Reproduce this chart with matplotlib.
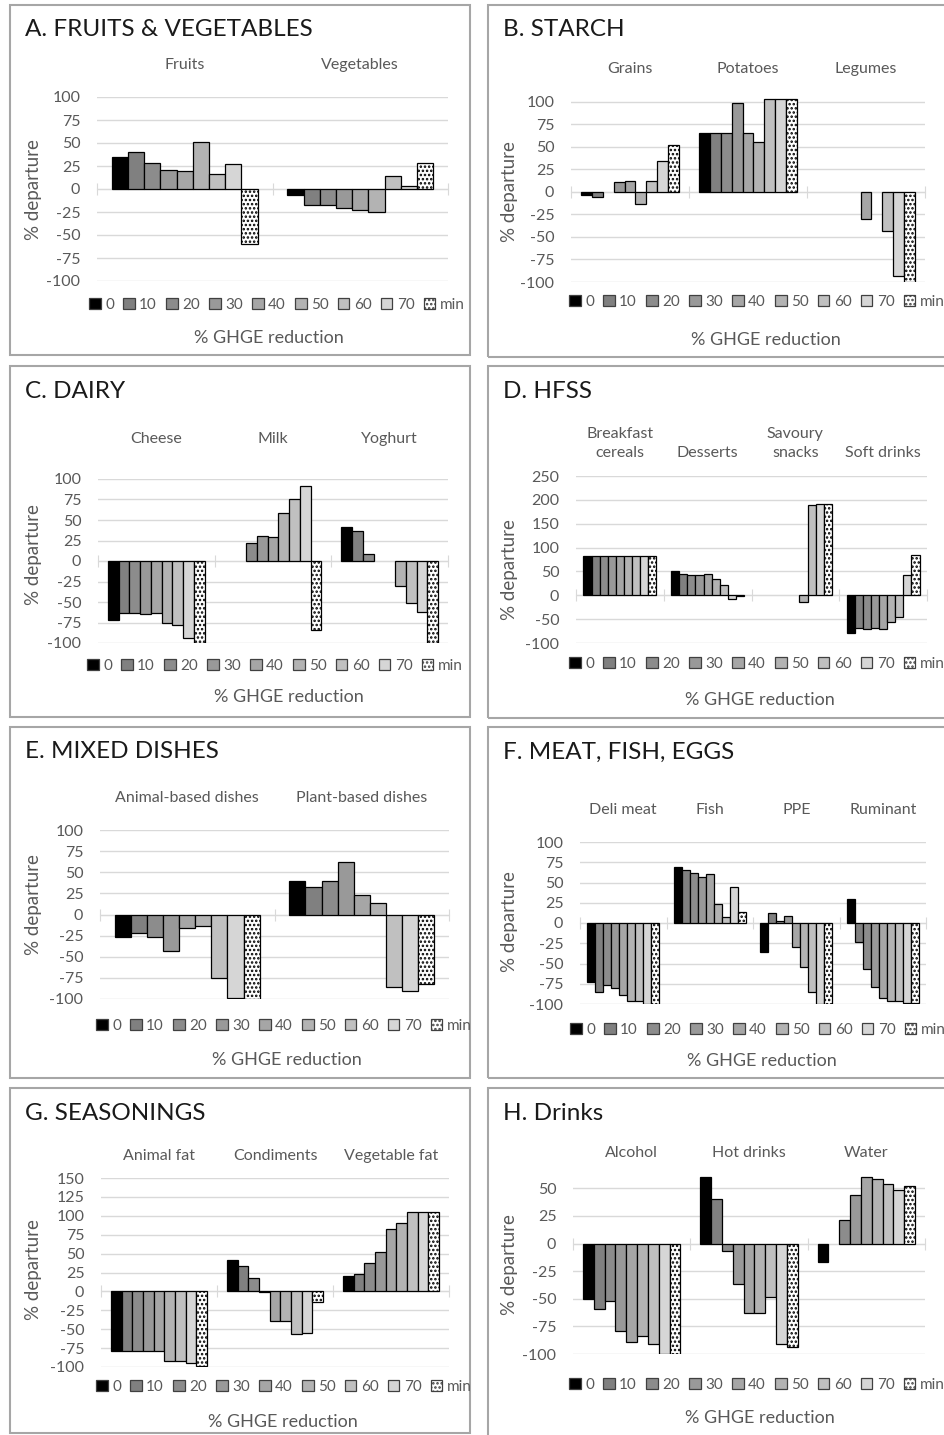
import matplotlib
matplotlib.use("Agg")
import matplotlib.pyplot as plt
from matplotlib.patches import Rectangle, Patch
import numpy as np

W, H = 944, 1435

plt.rcParams["font.family"] = ["Lato", "DejaVu Sans"]
plt.rcParams["hatch.linewidth"] = 1.2
plt.rcParams["axes.unicode_minus"] = False

SERIES = ["0", "10", "20", "30", "40", "50", "60", "70", "min"]
COLORS = ["#000000", "#808080", "#8c8c8c", "#999999", "#a6a6a6",
          "#b3b3b3", "#c0c0c0", "#d6d6d6", "#ffffff"]

# A. fruits & vegetables
A_CATS = ["Fruits", "Vegetables"]
A_FRUITS = [35, 40, 28, 21, 20, 51, 16, 27, -60]
A_VEG = [-7, -17, -17, -21, -23, -25, 14, 3, 28]

# B. starch
B_CATS = ["Grains", "Potatoes", "Legumes"]
B_GRAINS = [-3, -6, 0, 11, 12, -14, 12, 34, 52]
B_POTATOES = [65, 65, 65, 99, 65, 55, 103, 103, 103]
B_LEGUMES = [0, 0, 0, 0, -30, 0, -43, -93, -100]

# C. dairy
C_CATS = ["Cheese", "Milk", "Yoghurt"]
C_CHEESE = [-72, -64, -63, -65, -63, -76, -78, -94, -100]
C_MILK = [0, 0, 22, 30, 29, 58, 76, 91, -84]
C_YOGHURT = [42, 37, 8, 0, 0, -30, -51, -62, -100]

# D. HFSS
D_CATS = ["Breakfast\ncereals", "Desserts", "Savoury\nsnacks", "Soft drinks"]
D_CEREALS = [83, 83, 83, 83, 83, 83, 83, 83, 83]
D_DESSERTS = [50, 44, 43, 43, 45, 35, 22, -8, -2]
D_SNACKS = [0, 0, 0, 0, 0, -14, 190, 192, 192]
D_SOFT = [-79, -69, -70, -69, -71, -57, -46, 42, 84]

# E. mixed dishes
E_CATS = ["Animal-based dishes", "Plant-based dishes"]
E_ANIMAL = [-27, -22, -27, -43, -16, -14, -75, -99, -100]
E_PLANT = [40, 33, 40, 62, 23, 14, -86, -90, -82]

# F. meat, fish, eggs
F_CATS = ["Deli meat", "Fish", "PPE", "Ruminant"]
F_DELI = [-73, -85, -77, -80, -89, -96, -96, -100, -100]
F_FISH = [69, 66, 62, 57, 60, 23, 7, 44, 14]
F_PPE = [-36, 12, 3, 9, -30, -54, -85, -100, -100]
F_RUMINANT = [30, -23, -57, -79, -92, -96, -96, -99, -99]

# G. seasonings
G_CATS = ["Animal fat", "Condiments", "Vegetable fat"]
G_ANIMAL_FAT = [-79, -79, -79, -79, -79, -92, -92, -95, -99]
G_CONDIMENTS = [41, 34, 18, -1, -39, -39, -57, -55, -14]
G_VEG_FAT = [20, 23, 37, 52, 82, 90, 105, 105, 105]

# H. drinks
H_CATS = ["Alcohol", "Hot drinks", "Water"]
H_ALCOHOL = [-50, -59, -52, -79, -89, -84, -91, -100, -100]
H_HOT = [60, 40, -7, -37, -63, -63, -48, -91, -94]
H_WATER = [-17, 0, 21, 44, 60, 58, 54, 48, 52]

TEXT_GREY = "#595959"
GRID_GREY = "#d9d9d9"


def build_panels():
    return [
        dict(title="A. FRUITS & VEGETABLES", cats=A_CATS, values=[A_FRUITS, A_VEG],
             ylim=(-100, 100), yticks=np.arange(-100, 101, 25),
             box=(10, 5, 470, 355), plot=(97, 97, 448, 281), cat_y=72,
             legend=(277, 305), xlabel=(269, 338), ylabel=(33, 190)),
        dict(title="B. STARCH", cats=B_CATS, values=[B_GRAINS, B_POTATOES, B_LEGUMES],
             ylim=(-100, 104), yticks=np.arange(-100, 101, 25),
             box=(488, 5, 960, 357), plot=(571, 98, 925, 282), cat_y=76,
             legend=(757, 302), xlabel=(766, 340), ylabel=(510, 192)),
        dict(title="C. DAIRY", cats=C_CATS, values=[C_CHEESE, C_MILK, C_YOGHURT],
             ylim=(-100, 100), yticks=np.arange(-100, 101, 25),
             box=(10, 366, 470, 717), plot=(98, 479, 448, 643), cat_y=446,
             legend=(275, 666), xlabel=(289, 697), ylabel=(33, 555)),
        dict(title="D. HFSS", cats=D_CATS, values=[D_CEREALS, D_DESSERTS, D_SNACKS, D_SOFT],
             ylim=(-100, 250), yticks=np.arange(-100, 251, 50),
             box=(488, 366, 960, 718), plot=(576, 476, 927, 643), cat_y=460,
             legend=(757, 664), xlabel=(760, 700), ylabel=(510, 570)),
        dict(title="E. MIXED DISHES", cats=E_CATS, values=[E_ANIMAL, E_PLANT],
             ylim=(-100, 100), yticks=np.arange(-100, 101, 25),
             box=(10, 727, 470, 1078), plot=(100, 830, 449, 999), cat_y=805,
             legend=(284, 1026), xlabel=(287, 1060), ylabel=(33, 905)),
        dict(title="F. MEAT, FISH, EGGS", cats=F_CATS, values=[F_DELI, F_FISH, F_PPE, F_RUMINANT],
             ylim=(-100, 100), yticks=np.arange(-100, 101, 25),
             box=(488, 727, 960, 1078), plot=(580, 842, 926, 1004), cat_y=817,
             legend=(758, 1030), xlabel=(762, 1061), ylabel=(510, 922)),
        dict(title="G. SEASONINGS", cats=G_CATS, values=[G_ANIMAL_FAT, G_CONDIMENTS, G_VEG_FAT],
             ylim=(-100, 150), yticks=np.arange(-100, 151, 25),
             box=(10, 1088, 470, 1433), plot=(101, 1178, 449, 1367), cat_y=1163,
             legend=(284, 1387), xlabel=(283, 1422), ylabel=(33, 1270)),
        dict(title="H. Drinks", cats=H_CATS, values=[H_ALCOHOL, H_HOT, H_WATER],
             ylim=(-100, 62), yticks=np.arange(-100, 51, 25),
             box=(488, 1088, 960, 1445), plot=(573, 1175, 925, 1354), cat_y=1160,
             legend=(757, 1385), xlabel=(760, 1418), ylabel=(510, 1265)),
    ]


def fx(x):
    return x / W


def fy(y):
    return 1 - y / H


def draw_panel(fig, p):
    bx0, by0, bx1, by1 = p["box"]
    fig.patches.append(Rectangle((fx(bx0), fy(by1)), fx(bx1 - bx0), (by1 - by0) / H,
                                 transform=fig.transFigure, fill=False,
                                 edgecolor="#a6a6a6", linewidth=1.5, zorder=0))
    fig.text(fx(bx0 + 15), fy(by0 + 25), p["title"], fontsize=17.5,
             color="#1a1a1a", ha="left", va="center")

    l, t, r, b = p["plot"]
    ax = fig.add_axes([fx(l), fy(b), fx(r - l), (b - t) / H])

    vals = np.array(p["values"], dtype=float)
    n = len(p["cats"])
    bw = 0.83 / len(SERIES)
    xs = np.arange(n)
    for j, name in enumerate(SERIES):
        col = vals[:, j]
        keep = col != 0
        ax.bar(xs[keep] + (j - 4) * bw, col[keep], width=bw, color=COLORS[j],
               edgecolor="black", linewidth=0.9, hatch="...." if name == "min" else None,
               zorder=3)

    ax.set_xlim(-0.5, n - 0.5)
    ax.set_ylim(*p["ylim"])
    ax.set_yticks(p["yticks"])
    ax.yaxis.grid(True, color=GRID_GREY, linewidth=1)
    ax.set_axisbelow(True)
    for s in ["left", "top", "right"]:
        ax.spines[s].set_visible(False)
    ax.spines["bottom"].set_position(("data", 0))
    ax.spines["bottom"].set_color(GRID_GREY)
    ax.spines["bottom"].set_zorder(2)
    ax.set_xticks(np.arange(n + 1) - 0.5)
    ax.tick_params(axis="x", direction="inout", length=8, color=GRID_GREY,
                   labelbottom=False)
    ax.tick_params(axis="y", length=0, pad=12, labelsize=11.5, labelcolor=TEXT_GREY)
    ax.patch.set_alpha(0)

    blend = ax.get_xaxis_transform().__class__(ax.transData, fig.transFigure)
    for i, cat in enumerate(p["cats"]):
        ax.text(i, fy(p["cat_y"]), cat, transform=blend, ha="center", va="bottom",
                fontsize=11.5, color=TEXT_GREY, linespacing=1.45)

    fig.text(fx(p["ylabel"][0]), fy(p["ylabel"][1]), "% departure", rotation=90,
             fontsize=13.5, color=TEXT_GREY, ha="center", va="center")
    fig.text(fx(p["xlabel"][0]), fy(p["xlabel"][1]), "% GHGE reduction",
             fontsize=13, color=TEXT_GREY, ha="center", va="center")

    handles = [Patch(facecolor=c, edgecolor="#404040", linewidth=0.9,
                     hatch="...." if s == "min" else None)
               for s, c in zip(SERIES, COLORS)]
    fig.legend(handles, SERIES, loc="center", ncol=9, frameon=False,
               bbox_to_anchor=(fx(p["legend"][0]), fy(p["legend"][1])),
               handlelength=0.75, handleheight=0.75, handletextpad=0.3,
               columnspacing=0.6, fontsize=11, labelcolor=TEXT_GREY,
               borderpad=0, borderaxespad=0)


if __name__ == "__main__":
    fig = plt.figure(figsize=(W / 100, H / 100), dpi=100)
    for panel in build_panels():
        draw_panel(fig, panel)
    fig.savefig("out.png", dpi=100, facecolor="white")
